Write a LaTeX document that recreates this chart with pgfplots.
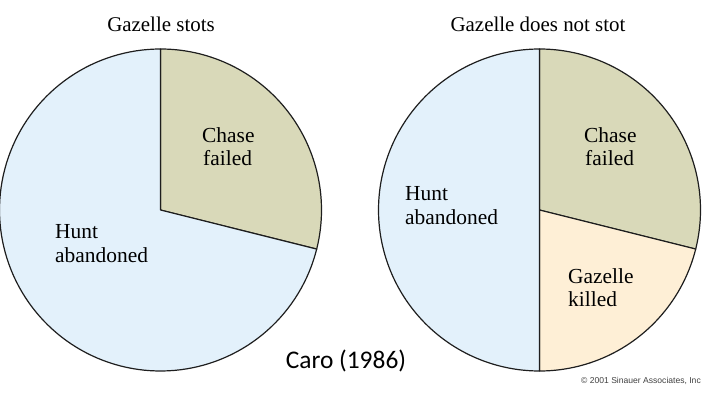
\documentclass[border=0pt]{standalone}
\usepackage{pgfplots}
\pgfplotsset{compat=1.18}
\usepackage{fontspec}
\setmainfont{Liberation Serif}
\newfontfamily\calibri{Carlito}
\newfontfamily\arialf{Liberation Sans}
\definecolor{hunt}{HTML}{E3F1FB}
\definecolor{chase}{HTML}{D9D9B9}
\definecolor{killed}{HTML}{FEEFD6}
\definecolor{edge}{HTML}{1E1E1E}
% shares in percent
\def\Lchase{28.9}\def\Lhunt{71.1}
\def\Rchase{28.9}\def\Rkilled{21.1}\def\Rhunt{50.0}
\pgfmathsetmacro\La{90-3.6*\Lchase}
\pgfmathsetmacro\Lb{\La-3.6*\Lhunt}
\pgfmathsetmacro\Ra{90-3.6*\Rchase}
\pgfmathsetmacro\Rb{\Ra-3.6*\Rkilled}
\pgfmathsetmacro\Rc{\Rb-3.6*\Rhunt}
\begin{document}
\begin{tikzpicture}
\begin{axis}[scale only axis, width=710bp, height=399bp,
  xmin=0, xmax=710, ymin=0, ymax=399, hide axis, clip=false,
  samples=120, every axis plot/.append style={draw=edge, line width=1.2bp, line join=round}]
\coordinate (BL) at (rel axis cs:0,0);
\coordinate (TR) at (rel axis cs:1,1);
% left pie
\addplot[fill=chase, domain=\La:90] ({160.5+161*cos(x)},{189+161*sin(x)}) -- (160.5,189) -- cycle;
\addplot[fill=hunt, domain=\Lb:\La] ({160.5+161*cos(x)},{189+161*sin(x)}) -- (160.5,189) -- cycle;
% right pie
\addplot[fill=chase, domain=\Ra:90] ({539.5+161*cos(x)},{189+161*sin(x)}) -- (539.5,189) -- cycle;
\addplot[fill=killed, domain=\Rb:\Ra] ({539.5+161*cos(x)},{189+161*sin(x)}) -- (539.5,189) -- cycle;
\addplot[fill=hunt, domain=\Rc:\Rb] ({539.5+161*cos(x)},{189+161*sin(x)}) -- (539.5,189) -- cycle;
% titles
\node[anchor=base, font=\fontsize{21}{23}\selectfont, inner sep=0pt] at (axis cs:161,367) {Gazelle stots};
\node[anchor=base, font=\fontsize{21}{23}\selectfont, inner sep=0pt] at (axis cs:538,367) {Gazelle does not stot};
% labels
\begin{scope}[every node/.style={anchor=base west, font=\fontsize{21.5}{23}\selectfont, inner sep=0pt}]
\node at (axis cs:202,256) {Chase};
\node at (axis cs:203,233) {failed};
\node at (axis cs:55,161) {Hunt};
\node at (axis cs:55,137) {abandoned};
\node at (axis cs:584,256) {Chase};
\node at (axis cs:585,233) {failed};
\node at (axis cs:405,198) {Hunt};
\node at (axis cs:405,175) {abandoned};
\node at (axis cs:568,116) {Gazelle};
\node at (axis cs:568,93) {killed};
\end{scope}
\node[anchor=base, font=\calibri\fontsize{25.5}{28}\selectfont, inner sep=0pt] at (axis cs:346,31) {Caro (1986)};
\node[anchor=base east, font=\arialf\fontsize{8.6}{10}\selectfont, inner sep=0pt, text=black!75] at (axis cs:701,16) {\textcopyright{} 2001 Sinauer Associates, Inc};
\end{axis}
\pgfresetboundingbox
\useasboundingbox (BL) rectangle (TR);
\end{tikzpicture}
\end{document}
